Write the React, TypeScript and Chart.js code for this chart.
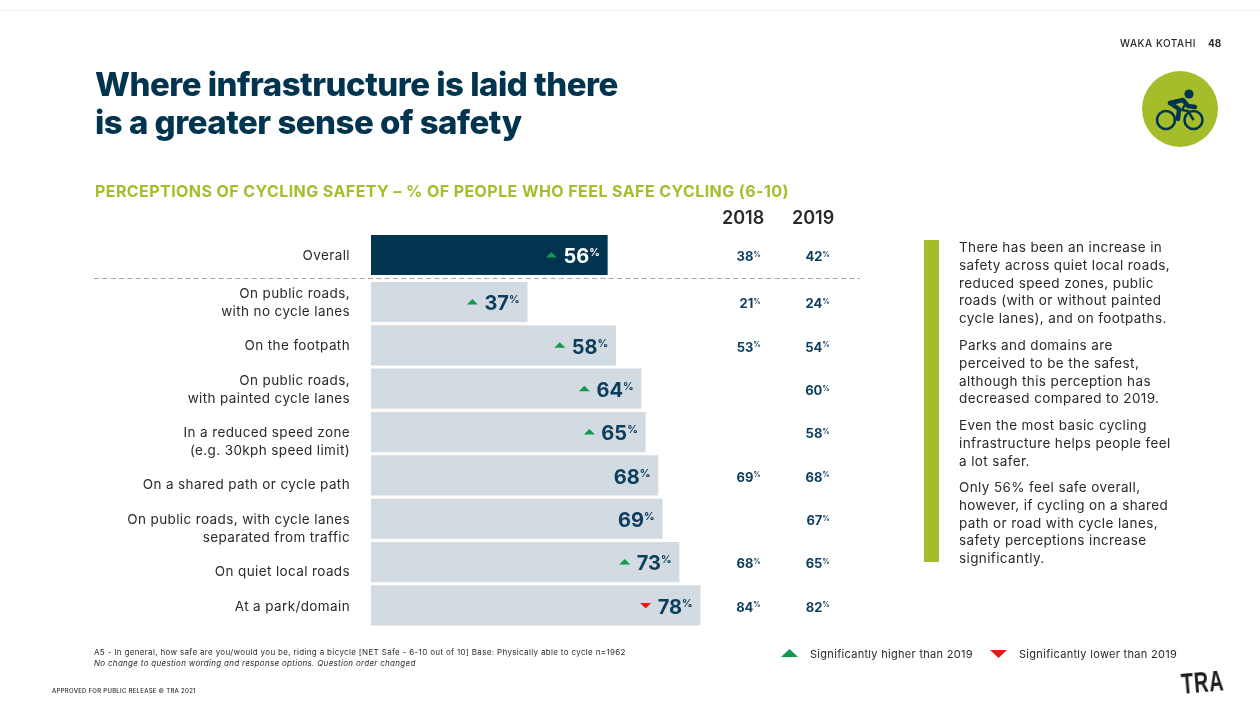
import React, { useEffect, useRef } from "react";
import { Chart, registerables } from "chart.js";

Chart.register(...registerables);

// Survey rows, top to bottom
const rowLabels: string[][] = [
  ["Overall"],
  ["On public roads,", "with no cycle lanes"],
  ["On the footpath"],
  ["On public roads,", "with painted cycle lanes"],
  ["", "In a reduced speed zone", "(e.g. 30kph speed limit)"],
  ["", "On a shared path or cycle path"],
  ["", "On public roads, with cycle lanes", "separated from traffic"],
  ["", "On quiet local roads"],
  ["At a park/domain"],
];
const values2021 = [56, 37, 58, 64, 65, 68, 69, 73, 78];
const values2018: (number | null)[] = [38, 21, 53, null, null, 69, null, 68, 84];
const values2019 = [42, 24, 54, 60, 58, 68, 67, 65, 82];
const trend: ("up" | "down" | null)[] = ["up", "up", "up", "up", "up", null, null, "up", "down"];

const NAVY = "#00344f";
const INK = "#0d3d5c";
const PALE = "#d3dbe2";
const LIME = "#a5bd2b";
const UP = "#0f9a50";
const DOWN = "#f01515";
const FONT = "Inter, 'Noto Sans', sans-serif";

const summary = [
  ["There has been an increase in", "safety across quiet local roads,", "reduced speed zones, public", "roads (with or without painted", "cycle lanes), and on footpaths."],
  ["Parks and domains are", "perceived to be the safest,", "although this perception has", "decreased compared to 2019."],
  ["Even the most basic cycling", "infrastructure helps people feel", "a lot safer."],
  ["Only 56% feel safe overall,", "however, if cycling on a shared", "path or road with cycle lanes,", "safety perceptions increase", "significantly."],
];

// Overall sits slightly apart from the other rows, above the dashed rule
const rowPosition = (i: number) => (i === 0 ? -0.084 : i);

function percentText(ctx: CanvasRenderingContext2D, value: number, right: number, y: number, size: number, pct: number, colour: string) {
  ctx.fillStyle = colour;
  ctx.textBaseline = "alphabetic";
  ctx.textAlign = "right";
  ctx.font = `700 ${pct}px ${FONT}`;
  const pctWidth = ctx.measureText("%").width;
  ctx.fillText("%", right, y - size * 0.37 + 0.73 * pct);
  ctx.font = `700 ${size}px ${FONT}`;
  const digits = String(value);
  ctx.fillText(digits, right - pctWidth, y + size * 0.36);
  return right - pctWidth - ctx.measureText(digits).width;
}

const overlays = {
  id: "rowOverlays",
  // Category labels are tracked out a little; the setting lives on the 2D context
  beforeDraw(chart: any) {
    chart.ctx.letterSpacing = "0.38px";
  },
  afterDatasetsDraw(chart: any) {
    const { ctx, scales } = chart;
    const xs = scales.x;
    const ys = scales.y;
    ctx.save();
    ctx.letterSpacing = "0px";

    // Dashed rule between the overall row and the breakdown
    const ruleY = Math.round(ys.getPixelForValue(0.45)) + 0.5;
    ctx.strokeStyle = "#a3a6a8";
    ctx.lineWidth = 1.2;
    ctx.setLineDash([5.2, 3.1]);
    ctx.beginPath();
    ctx.moveTo(94, ruleY);
    ctx.lineTo(860, ruleY);
    ctx.stroke();
    ctx.setLineDash([]);

    values2021.forEach((v, i) => {
      const y = ys.getPixelForValue(rowPosition(i));
      const right = xs.getPixelForValue(v) - 7.5;
      const colour = i === 0 ? "#ffffff" : INK;
      const left = percentText(ctx, v, right, y + 1, 20, 10.5, colour);
      const dir = trend[i];
      if (dir) {
        const ax = left - 12;
        ctx.fillStyle = dir === "up" ? UP : DOWN;
        ctx.beginPath();
        if (dir === "up") {
          ctx.moveTo(ax - 5.5, y + 2.5);
          ctx.lineTo(ax + 5.5, y + 2.5);
          ctx.lineTo(ax, y - 3);
        } else {
          ctx.moveTo(ax - 5.5, y - 2.5);
          ctx.lineTo(ax + 5.5, y - 2.5);
          ctx.lineTo(ax, y + 3);
        }
        ctx.closePath();
        ctx.fill();
      }
      const prior = values2018[i];
      if (prior !== null) percentText(ctx, prior, 760.5, y + 1.5, 13, 7, INK);
      percentText(ctx, values2019[i], 829.5, y + 1.5, 13, 7, INK);
    });
    ctx.restore();
  },
};

function Txt({ x, y, size, weight = 400, colour = "#2a2a2a", children, italic, spacing }: any) {
  return (
    <div
      style={{
        position: "absolute",
        left: x,
        top: y,
        transform: "translateY(-50%)",
        fontFamily: FONT,
        fontSize: size,
        fontWeight: weight,
        color: colour,
        whiteSpace: "nowrap",
        fontStyle: italic ? "italic" : "normal",
        letterSpacing: spacing,
        lineHeight: 1,
      }}
    >
      {children}
    </div>
  );
}

function Triangle({ x, y, colour, down }: any) {
  return (
    <svg style={{ position: "absolute", left: x, top: y }} width={17} height={8}>
      <polygon points={down ? "0,0 17,0 8.5,8" : "0,8 17,8 8.5,0"} fill={colour} />
    </svg>
  );
}

function CyclistBadge() {
  return (
    <svg style={{ position: "absolute", left: 1142, top: 71 }} width={76} height={76} viewBox="1142 71 76 76">
      <circle cx={1180} cy={109} r={38} fill={LIME} />
      <circle cx={1189} cy={94} r={4.6} fill={NAVY} />
      <circle cx={1166} cy={120} r={9} fill="none" stroke={NAVY} strokeWidth={2.6} />
      <circle cx={1193.5} cy={120} r={9} fill="none" stroke={NAVY} strokeWidth={2.6} />
      <path d="M1170 103 L1183 100 L1188 106 L1195 107" fill="none" stroke={NAVY} strokeWidth={4.4} strokeLinecap="round" strokeLinejoin="round" />
      <path d="M1170 103 L1179 109 L1178 119" fill="none" stroke={NAVY} strokeWidth={4.4} strokeLinecap="round" strokeLinejoin="round" />
      <path d="M1186 103 L1182 110 L1188 111 L1193.5 120" fill="none" stroke={NAVY} strokeWidth={2.4} strokeLinejoin="round" />
    </svg>
  );
}

export default function App() {
  const canvasRef = useRef<HTMLCanvasElement>(null);

  useEffect(() => {
    if (!canvasRef.current) return;
    const chart = new Chart(canvasRef.current, {
      type: "bar",
      data: {
        datasets: [
          {
            data: values2021.map((v, i) => ({ x: v, y: rowPosition(i) })),
            backgroundColor: values2021.map((_, i) => (i === 0 ? NAVY : PALE)),
            barThickness: 39.5,
            borderWidth: 0,
          },
        ],
      },
      options: {
        indexAxis: "y",
        responsive: false,
        animation: false,
        layout: { autoPadding: false, padding: { left: 0, right: 467, top: 215.3, bottom: 59.2 } },
        plugins: { legend: { display: false }, tooltip: { enabled: false } },
        scales: {
          x: { type: "linear", min: 0, max: 100, display: false },
          y: {
            type: "linear",
            reverse: true,
            offset: false,
            min: -1,
            max: 9,
            grid: { display: false, drawTicks: false },
            border: { display: false },
            afterFit: (scale: any) => {
              scale.width = 371;
              scale.paddingTop = 0;
              scale.paddingBottom = 0;
            },
            afterBuildTicks: (scale: any) => {
              scale.ticks = rowLabels.map((_, i) => ({ value: rowPosition(i) }));
            },
            ticks: {
              autoSkip: false,
              padding: 21,
              labelOffset: 1,
              color: "#2a2a2a",
              font: { family: FONT, size: 13.5, lineHeight: 18 / 13.5 },
              callback: (_v: any, i: number) => rowLabels[i],
            },
          },
        },
      } as any,
      plugins: [overlays],
    });
    return () => chart.destroy();
  }, []);

  const summaryLines: React.ReactNode[] = [];
  const paraStarts = [248, 346, 426, 488];
  summary.forEach((para, p) => {
    para.forEach((line, l) => {
      summaryLines.push(
        <Txt key={`${p}-${l}`} x={959} y={paraStarts[p] + l * 17.8} size={13.5} spacing={0.38}>
          {line}
        </Txt>
      );
    });
  });

  return (
    <div style={{ position: "absolute", left: 0, top: 0, width: 1260, height: 708, overflow: "hidden", background: "#fff" }}>
      <canvas ref={canvasRef} width={1260} height={708} style={{ position: "absolute", left: 0, top: 0 }} />
      <div style={{ position: "absolute", left: 0, top: 10, width: 1260, height: 1, background: "#f0f0f0" }} />
      <Txt x={95} y={84} size={33} weight={800} colour={NAVY} spacing={-0.5}>Where infrastructure is laid there</Txt>
      <Txt x={95} y={122} size={33} weight={800} colour={NAVY} spacing={-0.5}>is a greater sense of safety</Txt>
      <Txt x={95} y={191} size={16} weight={700} colour={LIME} spacing={0.42}>PERCEPTIONS OF CYCLING SAFETY – % OF PEOPLE WHO FEEL SAFE CYCLING (6-10)</Txt>
      <Txt x={722} y={218} size={18} weight={600}>2018</Txt>
      <Txt x={792} y={218} size={18} weight={600}>2019</Txt>
      <Txt x={1120} y={43} size={10} weight={500} spacing={0.55}>WAKA KOTAHI</Txt>
      <Txt x={1208} y={43} size={10} weight={700}>48</Txt>
      <CyclistBadge />
      <div style={{ position: "absolute", left: 924, top: 240, width: 15, height: 322, background: LIME }} />
      {summaryLines}
      <Txt x={94} y={652} size={8} spacing={0.34}>A5 - In general, how safe are you/would you be, riding a bicycle [NET Safe - 6-10 out of 10] Base: Physically able to cycle n=1962</Txt>
      <Txt x={94} y={663} size={8} spacing={0.3} italic>No change to question wording and response options. Question order changed</Txt>
      <Txt x={52} y={691} size={6} weight={500} spacing={0.28}>APPROVED FOR PUBLIC RELEASE © TRA 2021</Txt>
      <Triangle x={781} y={649} colour={UP} />
      <Txt x={810} y={654} size={11} spacing={0.3}>Significantly higher than 2019</Txt>
      <Triangle x={990} y={650} colour={DOWN} down />
      <Txt x={1019} y={654} size={11} spacing={0.3}>Significantly lower than 2019</Txt>
      <div
        style={{
          position: "absolute",
          left: 1180,
          top: 669,
          fontFamily: "'Liberation Sans Narrow', 'Liberation Sans', sans-serif",
          fontSize: 30,
          fontWeight: 700,
          lineHeight: 1,
          color: "#1c1c1c",
          transform: "rotate(-5deg) scaleX(0.66)",
          transformOrigin: "left top",
          letterSpacing: 1,
        }}
      >
        TRA
      </div>
    </div>
  );
}
